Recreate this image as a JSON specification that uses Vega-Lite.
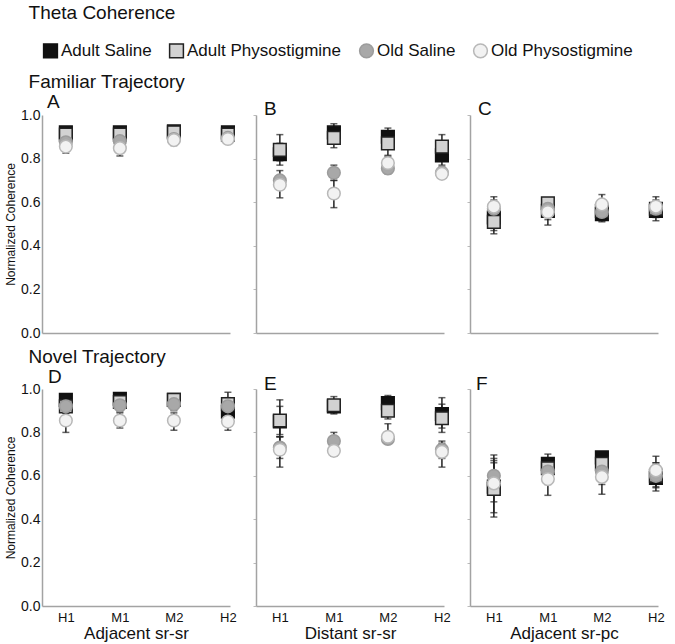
{
"$schema": "https://vega.github.io/schema/vega-lite/v6.json",
"padding": {"left": 4, "top": 4, "right": 2, "bottom": 2},
"config": {
  "font": "Liberation Sans",
  "view": {"stroke": null},
  "axis": {"domainColor": "#a3a3a3", "domainWidth": 1.5, "grid": false, "labelColor": "#111", "titleColor": "#111", "titleFontWeight": "normal", "labelFont": "Liberation Sans", "titleFont": "Liberation Sans"},
  "title": {"fontWeight": "normal", "anchor": "start", "color": "#111", "font": "Liberation Sans"},
  "legend": {"orient": "top", "direction": "horizontal", "title": null, "labelFontSize": 17, "labelColor": "#111", "symbolSize": 190, "labelOffset": 2, "columnPadding": 14, "symbolStrokeWidth": 1.5, "offset": 12},
  "concat": {"spacing": 14}
},
"title": {"text": "Theta Coherence", "fontSize": 19, "anchor": "start", "offset": 19, "dx": 24},
"datasets": {"d": [
{"panel":"A","pos":"H1","group":"Adult Saline","mean":0.92,"lo":0.9,"hi":0.94},
{"panel":"A","pos":"H1","group":"Adult Physostigmine","mean":0.91,"lo":0.89,"hi":0.93},
{"panel":"A","pos":"H1","group":"Old Saline","mean":0.875,"lo":0.85,"hi":0.9},
{"panel":"A","pos":"H1","group":"Old Physostigmine","mean":0.855,"lo":0.825,"hi":0.88},
{"panel":"A","pos":"M1","group":"Adult Saline","mean":0.92,"lo":0.9,"hi":0.945},
{"panel":"A","pos":"M1","group":"Adult Physostigmine","mean":0.91,"lo":0.89,"hi":0.93},
{"panel":"A","pos":"M1","group":"Old Saline","mean":0.88,"lo":0.85,"hi":0.9},
{"panel":"A","pos":"M1","group":"Old Physostigmine","mean":0.848,"lo":0.812,"hi":0.875},
{"panel":"A","pos":"M2","group":"Adult Saline","mean":0.925,"lo":0.905,"hi":0.95},
{"panel":"A","pos":"M2","group":"Adult Physostigmine","mean":0.92,"lo":0.9,"hi":0.94},
{"panel":"A","pos":"M2","group":"Old Saline","mean":0.89,"lo":0.87,"hi":0.91},
{"panel":"A","pos":"M2","group":"Old Physostigmine","mean":0.885,"lo":0.86,"hi":0.905},
{"panel":"A","pos":"H2","group":"Adult Saline","mean":0.92,"lo":0.9,"hi":0.94},
{"panel":"A","pos":"H2","group":"Adult Physostigmine","mean":0.91,"lo":0.895,"hi":0.93},
{"panel":"A","pos":"H2","group":"Old Saline","mean":0.895,"lo":0.875,"hi":0.915},
{"panel":"A","pos":"H2","group":"Old Physostigmine","mean":0.89,"lo":0.87,"hi":0.91},
{"panel":"B","pos":"H1","group":"Adult Saline","mean":0.82,"lo":0.77,"hi":0.87},
{"panel":"B","pos":"H1","group":"Adult Physostigmine","mean":0.84,"lo":0.79,"hi":0.91},
{"panel":"B","pos":"H1","group":"Old Saline","mean":0.7,"lo":0.66,"hi":0.745},
{"panel":"B","pos":"H1","group":"Old Physostigmine","mean":0.68,"lo":0.62,"hi":0.72},
{"panel":"B","pos":"M1","group":"Adult Saline","mean":0.92,"lo":0.88,"hi":0.96},
{"panel":"B","pos":"M1","group":"Adult Physostigmine","mean":0.895,"lo":0.85,"hi":0.94},
{"panel":"B","pos":"M1","group":"Old Saline","mean":0.735,"lo":0.7,"hi":0.77},
{"panel":"B","pos":"M1","group":"Old Physostigmine","mean":0.64,"lo":0.575,"hi":0.7},
{"panel":"B","pos":"M2","group":"Adult Saline","mean":0.9,"lo":0.86,"hi":0.94},
{"panel":"B","pos":"M2","group":"Adult Physostigmine","mean":0.87,"lo":0.815,"hi":0.92},
{"panel":"B","pos":"M2","group":"Old Saline","mean":0.755,"lo":0.73,"hi":0.785},
{"panel":"B","pos":"M2","group":"Old Physostigmine","mean":0.78,"lo":0.75,"hi":0.81},
{"panel":"B","pos":"H2","group":"Adult Saline","mean":0.815,"lo":0.77,"hi":0.86},
{"panel":"B","pos":"H2","group":"Adult Physostigmine","mean":0.855,"lo":0.8,"hi":0.91},
{"panel":"B","pos":"H2","group":"Old Saline","mean":0.735,"lo":0.71,"hi":0.76},
{"panel":"B","pos":"H2","group":"Old Physostigmine","mean":0.73,"lo":0.71,"hi":0.76},
{"panel":"C","pos":"H1","group":"Adult Saline","mean":0.53,"lo":0.47,"hi":0.57},
{"panel":"C","pos":"H1","group":"Adult Physostigmine","mean":0.51,"lo":0.455,"hi":0.55},
{"panel":"C","pos":"H1","group":"Old Saline","mean":0.57,"lo":0.54,"hi":0.61},
{"panel":"C","pos":"H1","group":"Old Physostigmine","mean":0.58,"lo":0.55,"hi":0.625},
{"panel":"C","pos":"M1","group":"Adult Saline","mean":0.56,"lo":0.52,"hi":0.6},
{"panel":"C","pos":"M1","group":"Adult Physostigmine","mean":0.595,"lo":0.56,"hi":0.615},
{"panel":"C","pos":"M1","group":"Old Saline","mean":0.57,"lo":0.53,"hi":0.6},
{"panel":"C","pos":"M1","group":"Old Physostigmine","mean":0.555,"lo":0.495,"hi":0.59},
{"panel":"C","pos":"M2","group":"Adult Saline","mean":0.545,"lo":0.515,"hi":0.58},
{"panel":"C","pos":"M2","group":"Adult Physostigmine","mean":0.56,"lo":0.52,"hi":0.6},
{"panel":"C","pos":"M2","group":"Old Saline","mean":0.555,"lo":0.51,"hi":0.59},
{"panel":"C","pos":"M2","group":"Old Physostigmine","mean":0.59,"lo":0.55,"hi":0.635},
{"panel":"C","pos":"H2","group":"Adult Saline","mean":0.56,"lo":0.515,"hi":0.6},
{"panel":"C","pos":"H2","group":"Adult Physostigmine","mean":0.57,"lo":0.53,"hi":0.61},
{"panel":"C","pos":"H2","group":"Old Saline","mean":0.57,"lo":0.54,"hi":0.6},
{"panel":"C","pos":"H2","group":"Old Physostigmine","mean":0.58,"lo":0.54,"hi":0.625},
{"panel":"D","pos":"H1","group":"Adult Saline","mean":0.95,"lo":0.92,"hi":0.97},
{"panel":"D","pos":"H1","group":"Adult Physostigmine","mean":0.92,"lo":0.89,"hi":0.95},
{"panel":"D","pos":"H1","group":"Old Saline","mean":0.92,"lo":0.89,"hi":0.95},
{"panel":"D","pos":"H1","group":"Old Physostigmine","mean":0.855,"lo":0.8,"hi":0.89},
{"panel":"D","pos":"M1","group":"Adult Saline","mean":0.955,"lo":0.93,"hi":0.97},
{"panel":"D","pos":"M1","group":"Adult Physostigmine","mean":0.94,"lo":0.91,"hi":0.96},
{"panel":"D","pos":"M1","group":"Old Saline","mean":0.925,"lo":0.895,"hi":0.95},
{"panel":"D","pos":"M1","group":"Old Physostigmine","mean":0.855,"lo":0.82,"hi":0.89},
{"panel":"D","pos":"M2","group":"Adult Saline","mean":0.95,"lo":0.92,"hi":0.97},
{"panel":"D","pos":"M2","group":"Adult Physostigmine","mean":0.95,"lo":0.92,"hi":0.97},
{"panel":"D","pos":"M2","group":"Old Saline","mean":0.93,"lo":0.9,"hi":0.96},
{"panel":"D","pos":"M2","group":"Old Physostigmine","mean":0.855,"lo":0.81,"hi":0.89},
{"panel":"D","pos":"H2","group":"Adult Saline","mean":0.895,"lo":0.86,"hi":0.93},
{"panel":"D","pos":"H2","group":"Adult Physostigmine","mean":0.93,"lo":0.88,"hi":0.985},
{"panel":"D","pos":"H2","group":"Old Saline","mean":0.92,"lo":0.88,"hi":0.96},
{"panel":"D","pos":"H2","group":"Old Physostigmine","mean":0.85,"lo":0.81,"hi":0.89},
{"panel":"E","pos":"H1","group":"Adult Saline","mean":0.85,"lo":0.79,"hi":0.92},
{"panel":"E","pos":"H1","group":"Adult Physostigmine","mean":0.855,"lo":0.78,"hi":0.95},
{"panel":"E","pos":"H1","group":"Old Saline","mean":0.73,"lo":0.68,"hi":0.78},
{"panel":"E","pos":"H1","group":"Old Physostigmine","mean":0.72,"lo":0.64,"hi":0.78},
{"panel":"E","pos":"M1","group":"Adult Saline","mean":0.92,"lo":0.885,"hi":0.95},
{"panel":"E","pos":"M1","group":"Adult Physostigmine","mean":0.925,"lo":0.89,"hi":0.965},
{"panel":"E","pos":"M1","group":"Old Saline","mean":0.76,"lo":0.73,"hi":0.8},
{"panel":"E","pos":"M1","group":"Old Physostigmine","mean":0.715,"lo":0.69,"hi":0.74},
{"panel":"E","pos":"M2","group":"Adult Saline","mean":0.935,"lo":0.88,"hi":0.97},
{"panel":"E","pos":"M2","group":"Adult Physostigmine","mean":0.9,"lo":0.862,"hi":0.94},
{"panel":"E","pos":"M2","group":"Old Saline","mean":0.77,"lo":0.75,"hi":0.8},
{"panel":"E","pos":"M2","group":"Old Physostigmine","mean":0.78,"lo":0.76,"hi":0.84},
{"panel":"E","pos":"H2","group":"Adult Saline","mean":0.885,"lo":0.8,"hi":0.93},
{"panel":"E","pos":"H2","group":"Adult Physostigmine","mean":0.865,"lo":0.82,"hi":0.96},
{"panel":"E","pos":"H2","group":"Old Saline","mean":0.72,"lo":0.68,"hi":0.76},
{"panel":"E","pos":"H2","group":"Old Physostigmine","mean":0.71,"lo":0.64,"hi":0.75},
{"panel":"F","pos":"H1","group":"Adult Saline","mean":0.55,"lo":0.43,"hi":0.68},
{"panel":"F","pos":"H1","group":"Adult Physostigmine","mean":0.54,"lo":0.41,"hi":0.67},
{"panel":"F","pos":"H1","group":"Old Saline","mean":0.6,"lo":0.52,"hi":0.696},
{"panel":"F","pos":"H1","group":"Old Physostigmine","mean":0.565,"lo":0.48,"hi":0.66},
{"panel":"F","pos":"M1","group":"Adult Saline","mean":0.655,"lo":0.6,"hi":0.7},
{"panel":"F","pos":"M1","group":"Adult Physostigmine","mean":0.635,"lo":0.58,"hi":0.68},
{"panel":"F","pos":"M1","group":"Old Saline","mean":0.62,"lo":0.56,"hi":0.67},
{"panel":"F","pos":"M1","group":"Old Physostigmine","mean":0.585,"lo":0.51,"hi":0.65},
{"panel":"F","pos":"M2","group":"Adult Saline","mean":0.685,"lo":0.63,"hi":0.71},
{"panel":"F","pos":"M2","group":"Adult Physostigmine","mean":0.655,"lo":0.6,"hi":0.7},
{"panel":"F","pos":"M2","group":"Old Saline","mean":0.62,"lo":0.56,"hi":0.67},
{"panel":"F","pos":"M2","group":"Old Physostigmine","mean":0.595,"lo":0.515,"hi":0.65},
{"panel":"F","pos":"H2","group":"Adult Saline","mean":0.59,"lo":0.53,"hi":0.65},
{"panel":"F","pos":"H2","group":"Adult Physostigmine","mean":0.6,"lo":0.545,"hi":0.66},
{"panel":"F","pos":"H2","group":"Old Saline","mean":0.6,"lo":0.55,"hi":0.66},
{"panel":"F","pos":"H2","group":"Old Physostigmine","mean":0.625,"lo":0.57,"hi":0.69}
]},
"data": {"name": "d"},
"spacing": 8,
"vconcat": [
 {
  "title": {"text": "Familiar Trajectory", "fontSize": 19, "anchor": "start", "dx": 24, "offset": 1},
  "spacing": 14,
  "hconcat": [
   {"title": {"text": "A", "fontSize": 19, "frame": "group", "dx": 5, "offset": -4}, "width": 188, "height": 218,
    "transform": [{"filter": "datum.panel === 'A'"}],
    "encoding": {"x": {"field": "pos", "type": "nominal", "sort": ["H1","M1","M2","H2"], "scale": {"type": "point", "padding": 0.24, "align": 0.92}, "axis": {"title": null, "labels": false, "ticks": false}}},
    "layer": [
     {"mark": {"type": "rule", "color": "#222", "strokeWidth": 1.5}, "encoding": {"y": {"field": "lo", "type": "quantitative", "scale": {"domain": [0, 1], "nice": false}, "axis": {"title": "Normalized Coherence", "values": [0,0.2,0.4,0.6,0.8,1], "format": ".1f", "labelFontSize": 14, "ticks": false, "labelPadding": 2, "titleFontSize": 12, "titlePadding": 3}}, "y2": {"field": "hi"}}},
     {"mark": {"type": "tick", "color": "#222", "size": 7, "thickness": 1.5}, "encoding": {"y": {"field": "lo", "type": "quantitative", "scale": {"domain": [0, 1], "nice": false}}}},
     {"mark": {"type": "tick", "color": "#222", "size": 7, "thickness": 1.5}, "encoding": {"y": {"field": "hi", "type": "quantitative", "scale": {"domain": [0, 1], "nice": false}}}},
     {"mark": {"type": "point", "filled": true, "size": 160, "strokeWidth": 1.5, "opacity": 1}, "encoding": {
       "y": {"field": "mean", "type": "quantitative", "scale": {"domain": [0, 1], "nice": false}},
       "fill": {"field": "group", "type": "nominal", "scale": {"domain": ["Adult Saline","Adult Physostigmine","Old Saline","Old Physostigmine"], "range": ["#111111","#d2d2d2","#a8a8a8","#f2f2f2"]}},
       "stroke": {"field": "group", "type": "nominal", "scale": {"domain": ["Adult Saline","Adult Physostigmine","Old Saline","Old Physostigmine"], "range": ["#111111","#222222","#9c9c9c","#b8b8b8"]}},
       "shape": {"field": "group", "type": "nominal", "scale": {"domain": ["Adult Saline","Adult Physostigmine","Old Saline","Old Physostigmine"], "range": ["square","square","circle","circle"]}}}}
    ]},
   {"title": {"text": "B", "fontSize": 19, "frame": "group", "dx": 8, "offset": -4}, "width": 188, "height": 218,
    "transform": [{"filter": "datum.panel === 'B'"}],
    "encoding": {"x": {"field": "pos", "type": "nominal", "sort": ["H1","M1","M2","H2"], "scale": {"type": "point", "padding": 0.24, "align": 0.92}, "axis": {"title": null, "labels": false, "ticks": false}}},
    "layer": [
     {"mark": {"type": "rule", "color": "#222", "strokeWidth": 1.5}, "encoding": {"y": {"field": "lo", "type": "quantitative", "scale": {"domain": [0, 1], "nice": false}, "axis": {"title": null, "values": [0,0.2,0.4,0.6,0.8,1], "labels": false, "ticks": true, "tickSize": 3, "tickColor": "#bbb"}}, "y2": {"field": "hi"}}},
     {"mark": {"type": "tick", "color": "#222", "size": 7, "thickness": 1.5}, "encoding": {"y": {"field": "lo", "type": "quantitative", "scale": {"domain": [0, 1], "nice": false}}}},
     {"mark": {"type": "tick", "color": "#222", "size": 7, "thickness": 1.5}, "encoding": {"y": {"field": "hi", "type": "quantitative", "scale": {"domain": [0, 1], "nice": false}}}},
     {"mark": {"type": "point", "filled": true, "size": 160, "strokeWidth": 1.5, "opacity": 1}, "encoding": {
       "y": {"field": "mean", "type": "quantitative", "scale": {"domain": [0, 1], "nice": false}},
       "fill": {"field": "group", "type": "nominal"},
       "stroke": {"field": "group", "type": "nominal"},
       "shape": {"field": "group", "type": "nominal"}}}
    ]},
   {"title": {"text": "C", "fontSize": 19, "frame": "group", "dx": 8, "offset": -4}, "width": 188, "height": 218,
    "transform": [{"filter": "datum.panel === 'C'"}],
    "encoding": {"x": {"field": "pos", "type": "nominal", "sort": ["H1","M1","M2","H2"], "scale": {"type": "point", "padding": 0.24, "align": 0.92}, "axis": {"title": null, "labels": false, "ticks": false}}},
    "layer": [
     {"mark": {"type": "rule", "color": "#222", "strokeWidth": 1.5}, "encoding": {"y": {"field": "lo", "type": "quantitative", "scale": {"domain": [0, 1], "nice": false}, "axis": {"title": null, "values": [0,0.2,0.4,0.6,0.8,1], "labels": false, "ticks": true, "tickSize": 3, "tickColor": "#bbb"}}, "y2": {"field": "hi"}}},
     {"mark": {"type": "tick", "color": "#222", "size": 7, "thickness": 1.5}, "encoding": {"y": {"field": "lo", "type": "quantitative", "scale": {"domain": [0, 1], "nice": false}}}},
     {"mark": {"type": "tick", "color": "#222", "size": 7, "thickness": 1.5}, "encoding": {"y": {"field": "hi", "type": "quantitative", "scale": {"domain": [0, 1], "nice": false}}}},
     {"mark": {"type": "point", "filled": true, "size": 160, "strokeWidth": 1.5, "opacity": 1}, "encoding": {
       "y": {"field": "mean", "type": "quantitative", "scale": {"domain": [0, 1], "nice": false}},
       "fill": {"field": "group", "type": "nominal"},
       "stroke": {"field": "group", "type": "nominal"},
       "shape": {"field": "group", "type": "nominal"}}}
    ]}
  ]
 },
 {
  "title": {"text": "Novel Trajectory", "fontSize": 19, "anchor": "start", "dx": 24, "offset": 1},
  "spacing": 14,
  "hconcat": [
   {"title": {"text": "D", "fontSize": 19, "frame": "group", "dx": 6, "offset": -5}, "width": 188, "height": 217,
    "transform": [{"filter": "datum.panel === 'D'"}],
    "encoding": {"x": {"field": "pos", "type": "nominal", "sort": ["H1","M1","M2","H2"], "scale": {"type": "point", "padding": 0.24, "align": 0.92}, "axis": {"title": "Adjacent sr-sr", "labelAngle": 0, "labelFontSize": 13, "ticks": false, "labelPadding": 5, "titleFontSize": 17, "titlePadding": 1}}},
    "layer": [
     {"mark": {"type": "rule", "color": "#222", "strokeWidth": 1.5}, "encoding": {"y": {"field": "lo", "type": "quantitative", "scale": {"domain": [0, 1], "nice": false}, "axis": {"title": "Normalized Coherence", "values": [0,0.2,0.4,0.6,0.8,1], "format": ".1f", "labelFontSize": 14, "ticks": false, "labelPadding": 2, "titleFontSize": 12, "titlePadding": 3}}, "y2": {"field": "hi"}}},
     {"mark": {"type": "tick", "color": "#222", "size": 7, "thickness": 1.5}, "encoding": {"y": {"field": "lo", "type": "quantitative", "scale": {"domain": [0, 1], "nice": false}}}},
     {"mark": {"type": "tick", "color": "#222", "size": 7, "thickness": 1.5}, "encoding": {"y": {"field": "hi", "type": "quantitative", "scale": {"domain": [0, 1], "nice": false}}}},
     {"mark": {"type": "point", "filled": true, "size": 160, "strokeWidth": 1.5, "opacity": 1}, "encoding": {
       "y": {"field": "mean", "type": "quantitative", "scale": {"domain": [0, 1], "nice": false}},
       "fill": {"field": "group", "type": "nominal"},
       "stroke": {"field": "group", "type": "nominal"},
       "shape": {"field": "group", "type": "nominal"}}}
    ]},
   {"title": {"text": "E", "fontSize": 19, "frame": "group", "dx": 8, "offset": -5}, "width": 188, "height": 217,
    "transform": [{"filter": "datum.panel === 'E'"}],
    "encoding": {"x": {"field": "pos", "type": "nominal", "sort": ["H1","M1","M2","H2"], "scale": {"type": "point", "padding": 0.24, "align": 0.92}, "axis": {"title": "Distant sr-sr", "labelAngle": 0, "labelFontSize": 13, "ticks": false, "labelPadding": 5, "titleFontSize": 17, "titlePadding": 1}}},
    "layer": [
     {"mark": {"type": "rule", "color": "#222", "strokeWidth": 1.5}, "encoding": {"y": {"field": "lo", "type": "quantitative", "scale": {"domain": [0, 1], "nice": false}, "axis": {"title": null, "values": [0,0.2,0.4,0.6,0.8,1], "labels": false, "ticks": true, "tickSize": 3, "tickColor": "#bbb"}}, "y2": {"field": "hi"}}},
     {"mark": {"type": "tick", "color": "#222", "size": 7, "thickness": 1.5}, "encoding": {"y": {"field": "lo", "type": "quantitative", "scale": {"domain": [0, 1], "nice": false}}}},
     {"mark": {"type": "tick", "color": "#222", "size": 7, "thickness": 1.5}, "encoding": {"y": {"field": "hi", "type": "quantitative", "scale": {"domain": [0, 1], "nice": false}}}},
     {"mark": {"type": "point", "filled": true, "size": 160, "strokeWidth": 1.5, "opacity": 1}, "encoding": {
       "y": {"field": "mean", "type": "quantitative", "scale": {"domain": [0, 1], "nice": false}},
       "fill": {"field": "group", "type": "nominal"},
       "stroke": {"field": "group", "type": "nominal"},
       "shape": {"field": "group", "type": "nominal"}}}
    ]},
   {"title": {"text": "F", "fontSize": 19, "frame": "group", "dx": 6, "offset": -5}, "width": 188, "height": 217,
    "transform": [{"filter": "datum.panel === 'F'"}],
    "encoding": {"x": {"field": "pos", "type": "nominal", "sort": ["H1","M1","M2","H2"], "scale": {"type": "point", "padding": 0.24, "align": 0.92}, "axis": {"title": "Adjacent sr-pc", "labelAngle": 0, "labelFontSize": 13, "ticks": false, "labelPadding": 5, "titleFontSize": 17, "titlePadding": 1}}},
    "layer": [
     {"mark": {"type": "rule", "color": "#222", "strokeWidth": 1.5}, "encoding": {"y": {"field": "lo", "type": "quantitative", "scale": {"domain": [0, 1], "nice": false}, "axis": {"title": null, "values": [0,0.2,0.4,0.6,0.8,1], "labels": false, "ticks": true, "tickSize": 3, "tickColor": "#bbb"}}, "y2": {"field": "hi"}}},
     {"mark": {"type": "tick", "color": "#222", "size": 7, "thickness": 1.5}, "encoding": {"y": {"field": "lo", "type": "quantitative", "scale": {"domain": [0, 1], "nice": false}}}},
     {"mark": {"type": "tick", "color": "#222", "size": 7, "thickness": 1.5}, "encoding": {"y": {"field": "hi", "type": "quantitative", "scale": {"domain": [0, 1], "nice": false}}}},
     {"mark": {"type": "point", "filled": true, "size": 160, "strokeWidth": 1.5, "opacity": 1}, "encoding": {
       "y": {"field": "mean", "type": "quantitative", "scale": {"domain": [0, 1], "nice": false}},
       "fill": {"field": "group", "type": "nominal"},
       "stroke": {"field": "group", "type": "nominal"},
       "shape": {"field": "group", "type": "nominal"}}}
    ]}
  ]
 }
]
}
